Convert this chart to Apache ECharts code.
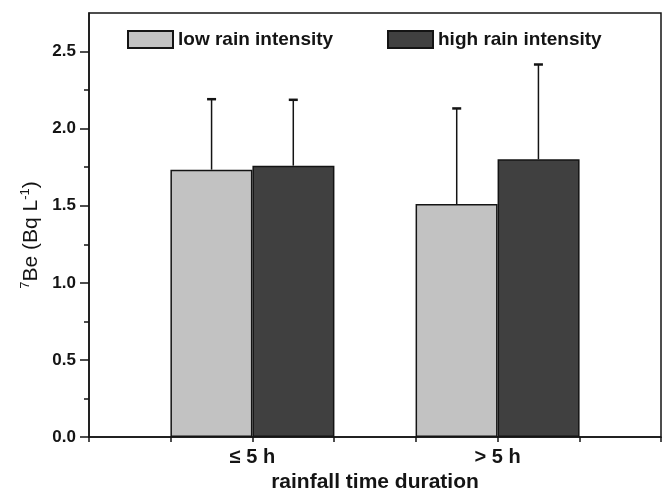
<!DOCTYPE html>
<html>
<head>
<meta charset="utf-8">
<script src="https://cdn.jsdelivr.net/npm/echarts@6/dist/echarts.min.js"></script>
<style>
  html, body { margin: 0; padding: 0; background: #fff; }
  #chart { width: 664px; height: 488px; }
</style>
</head>
<body>
<div id="chart"></div>
<script>
// categories sit at x = 3 and x = 6 on a 1..8 axis (ticks every unit)
const categories = ['≤ 5 h', '> 5 h'];
const catPos = [3, 6];
const lowMean = [1.734, 1.511];
const lowSD = [0.457, 0.620];
const highMean = [1.760, 1.801];
const highSD = [0.427, 0.615];
const yLabels = [0, 0.5, 1.0, 1.5, 2.0, 2.5];
const yMinor = [0.25, 0.75, 1.25, 1.75, 2.25];

const font = 'Liberation Sans, Arial, sans-serif';
const ink = '#141414';

// error bars: [x, mean, sd]; low bar centre is half a unit left, high half a unit right
const errData = [];
catPos.forEach((p, i) => {
  errData.push([p - 0.5, lowMean[i], lowSD[i]]);
  errData.push([p + 0.5, highMean[i], highSD[i]]);
});

function renderErr(params, api) {
  const base = api.coord([api.value(0), api.value(1)]);
  const top = api.coord([api.value(0), api.value(1) + api.value(2)]);
  return {
    type: 'group',
    children: [
      { type: 'line', shape: { x1: base[0], y1: base[1], x2: top[0], y2: top[1] },
        style: { stroke: ink, lineWidth: 1.5 } },
      { type: 'line', shape: { x1: top[0] - 4.5, y1: top[1], x2: top[0] + 4.5, y2: top[1] },
        style: { stroke: ink, lineWidth: 2.5 } }
    ]
  };
}

const legendText = { fontFamily: font, fontWeight: 'bold', fontSize: 19, color: ink };

const chart = echarts.init(document.getElementById('chart'));
chart.setOption({
  animation: false,
  grid: {
    left: 89, right: 3, top: 13, bottom: 51,
    outerBoundsMode: 'none',
    show: true, borderColor: ink, borderWidth: 1.5
  },
  legend: [
    {
      left: 127, top: 30, padding: 0, itemWidth: 45, itemHeight: 17,
      icon: 'rect', data: ['low rain intensity'], textStyle: legendText
    },
    {
      left: 387, top: 30, padding: 0, itemWidth: 45, itemHeight: 17,
      icon: 'rect', data: ['high rain intensity'], textStyle: legendText
    }
  ],
  xAxis: {
    type: 'value', min: 1, max: 8, interval: 1,
    axisLine: { show: true, lineStyle: { color: ink, width: 1.5 } },
    axisTick: { show: true, length: 5, lineStyle: { color: ink, width: 1.5 } },
    splitLine: { show: false },
    axisLabel: {
      customValues: catPos,
      formatter: v => categories[catPos.indexOf(v)],
      fontFamily: font, fontWeight: 'bold', fontSize: 20, color: ink, margin: 10
    },
    name: 'rainfall time duration',
    nameLocation: 'middle', nameGap: 34,
    nameTextStyle: { fontFamily: font, fontWeight: 'bold', fontSize: 21, color: ink,
      verticalAlign: 'top' }
  },
  yAxis: [
    {
      type: 'value', min: 0, max: 2.75, position: 'left',
      axisLine: { show: true, lineStyle: { color: ink, width: 1.5 } },
      axisTick: { show: true, length: 9, customValues: yLabels, lineStyle: { color: ink, width: 1.5 } },
      splitLine: { show: false },
      axisLabel: {
        customValues: yLabels,
        formatter: v => v.toFixed(1),
        fontFamily: font, fontWeight: 'bold', fontSize: 17, color: ink, margin: 13
      },
      name: '{sup|7}{b|Be (Bq L}{sup|-1}{b|)}',
      nameLocation: 'middle', nameGap: 40,
      nameTextStyle: {
        fontFamily: font, fontSize: 21, color: ink, padding: [0, 20, 0, 0],
        rich: {
          b: { fontFamily: font, fontSize: 21, color: ink },
          sup: { fontFamily: font, fontSize: 13, color: ink, padding: [0, 0, 11, 0] }
        }
      }
    },
    {
      type: 'value', min: 0, max: 2.75, position: 'left', offset: 0,
      axisLine: { show: false },
      axisTick: { show: true, length: 5, customValues: yMinor, lineStyle: { color: ink, width: 1.5 } },
      axisLabel: { show: false },
      splitLine: { show: false }
    }
  ],
  series: [
    {
      name: 'low rain intensity', type: 'bar', barWidth: 82, barGap: '0%',
      itemStyle: { color: '#c2c2c2', borderColor: ink, borderWidth: 1.5 },
      data: catPos.map((p, i) => [p, lowMean[i]]),
      z: 2
    },
    {
      name: 'high rain intensity', type: 'bar', barWidth: 82, barGap: '0%',
      itemStyle: { color: '#404040', borderColor: ink, borderWidth: 1.5 },
      data: catPos.map((p, i) => [p, highMean[i]]),
      z: 2
    },
    {
      type: 'custom', renderItem: renderErr, data: errData, z: 1,
      encode: { x: 0, y: 1 }, silent: true
    }
  ]
});
</script>
</body>
</html>
